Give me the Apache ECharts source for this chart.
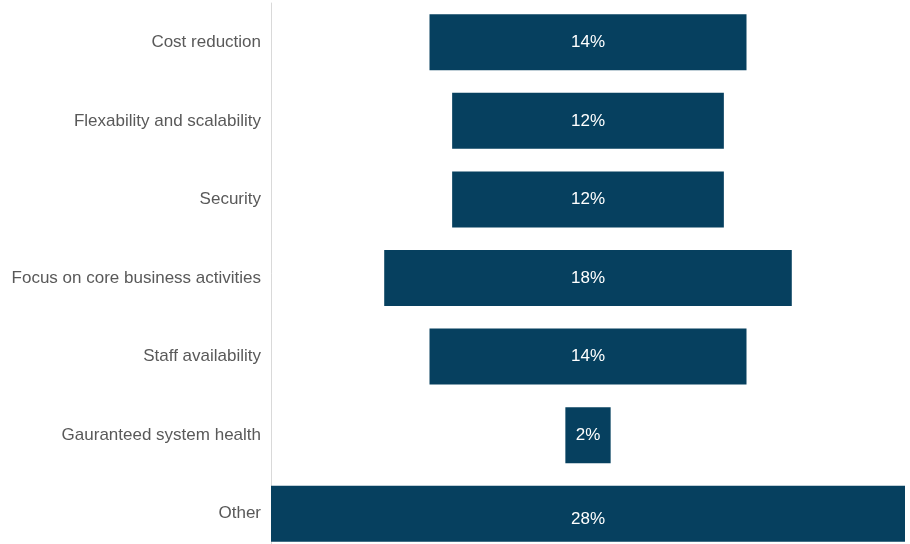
<!DOCTYPE html>
<html>
<head>
<meta charset="utf-8">
<script src="https://cdn.jsdelivr.net/npm/echarts@6/dist/echarts.min.js"></script>
<style>
  html, body { margin: 0; padding: 0; background: #ffffff; }
  #chart { width: 910px; height: 544px; }
</style>
</head>
<body>
<div id="chart"></div>
<script>
// Reasons for outsourcing, share of respondents (%)
const categories = [
  'Cost reduction',
  'Flexability and scalability',
  'Security',
  'Focus on core business activities',
  'Staff availability',
  'Gauranteed system health',
  'Other'
];
const shares = [14, 12, 12, 18, 14, 2, 28];

const maxShare = Math.max(...shares);
// Transparent spacer that centres each bar on the axis midpoint
const spacer = shares.map(v => (maxShare - v) / 2);

const chart = echarts.init(document.getElementById('chart'));
chart.setOption({
  animation: false,
  grid: {
    left: 271, right: 5, top: 3, height: 550,
    containLabel: false,
    outerBoundsMode: 'none'
  },
  xAxis: {
    type: 'value',
    min: 0,
    max: maxShare,
    show: false
  },
  yAxis: {
    type: 'category',
    data: categories,
    inverse: true,
    axisLine: { show: true, lineStyle: { color: '#d9d9d9', width: 1 } },
    axisTick: { show: false },
    axisLabel: {
      color: '#595959',
      fontFamily: 'Liberation Sans, Arial, sans-serif',
      fontSize: 17,
      margin: 10
    }
  },
  series: [
    {
      type: 'bar',
      stack: 'funnel',
      data: spacer,
      itemStyle: { color: 'transparent' },
      barWidth: 56,
      silent: true
    },
    {
      type: 'bar',
      stack: 'funnel',
      data: shares.map((v, i) => i === shares.length - 1
        ? { value: v, label: { offset: [0, 6] } }
        : v),
      barWidth: 56,
      itemStyle: { color: '#06405F' },
      label: {
        show: true,
        position: 'inside',
        formatter: p => p.value + '%',
        color: '#ffffff',
        fontFamily: 'Liberation Sans, Arial, sans-serif',
        fontSize: 17
      }
    }
  ]
});
</script>
</body>
</html>
